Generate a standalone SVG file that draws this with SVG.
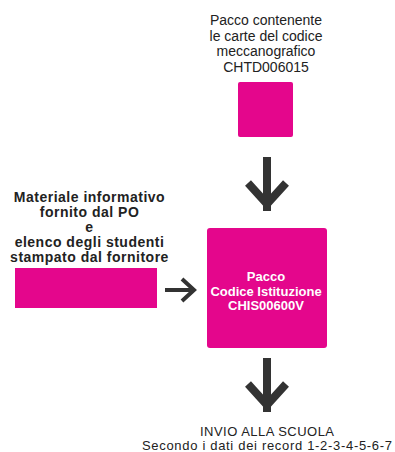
<svg xmlns="http://www.w3.org/2000/svg" width="395" height="452" viewBox="0 0 395 452">
<style>
.box{fill:#e4068c}
.t{font-family:"Liberation Sans",Arial,sans-serif;font-size:14px;fill:#222;text-anchor:middle}
.b{font-weight:bold;letter-spacing:0.5px}
.w{fill:#fff;font-size:13px;letter-spacing:0}
.s{font-size:13px}
.arr{fill:none;stroke:#333;stroke-width:8;stroke-linejoin:miter;stroke-miterlimit:10}
.arr2{fill:none;stroke:#333;stroke-width:4;stroke-linejoin:miter;stroke-miterlimit:10}
</style>
<defs>
<g id="down">
<path class="arr" d="M0,0 V54 M-19,26 L0,47 L19,26"/>
</g>
</defs>
<rect width="395" height="452" fill="#fff"/>
<g id="node-top">
<text class="t"><tspan x="266" y="25">Pacco contenente</tspan><tspan x="266" y="40.5">le carte del codice</tspan><tspan x="266" y="56">meccanografico</tspan><tspan x="266" y="71.5">CHTD006015</tspan></text>
<rect class="box" x="238" y="82" width="55" height="55" rx="2"/>
</g>
<g id="node-left">
<text class="t b"><tspan x="89.5" y="201.5">Materiale informativo</tspan><tspan x="89.5" y="217">fornito dal PO</tspan><tspan x="89.5" y="231.5">e</tspan><tspan x="89.5" y="246.5">elenco degli studenti</tspan><tspan x="89.5" y="262">stampato dal fornitore</tspan></text>
<rect class="box" x="15" y="268" width="142" height="40"/>
</g>
<g id="node-main">
<rect class="box" x="207" y="228" width="120" height="120" rx="3"/>
<text class="t b w"><tspan x="266" y="280.5">Pacco</tspan><tspan x="266" y="295.5">Codice Istituzione</tspan><tspan x="266" y="310">CHIS00600V</tspan></text>
</g>
<g id="node-bottom">
<text class="t s"><tspan x="267" y="435.5" textLength="134">INVIO ALLA SCUOLA</tspan><tspan x="267" y="449.5" textLength="250">Secondo i dati dei record 1-2-3-4-5-6-7</tspan></text>
</g>
<g id="connectors">
<use href="#down" x="267" y="157"/>
<use href="#down" x="267" y="358"/>
<path class="arr2" d="M165,290 H194 M182,279 L194,290 L182,301"/>
</g>
</svg>
